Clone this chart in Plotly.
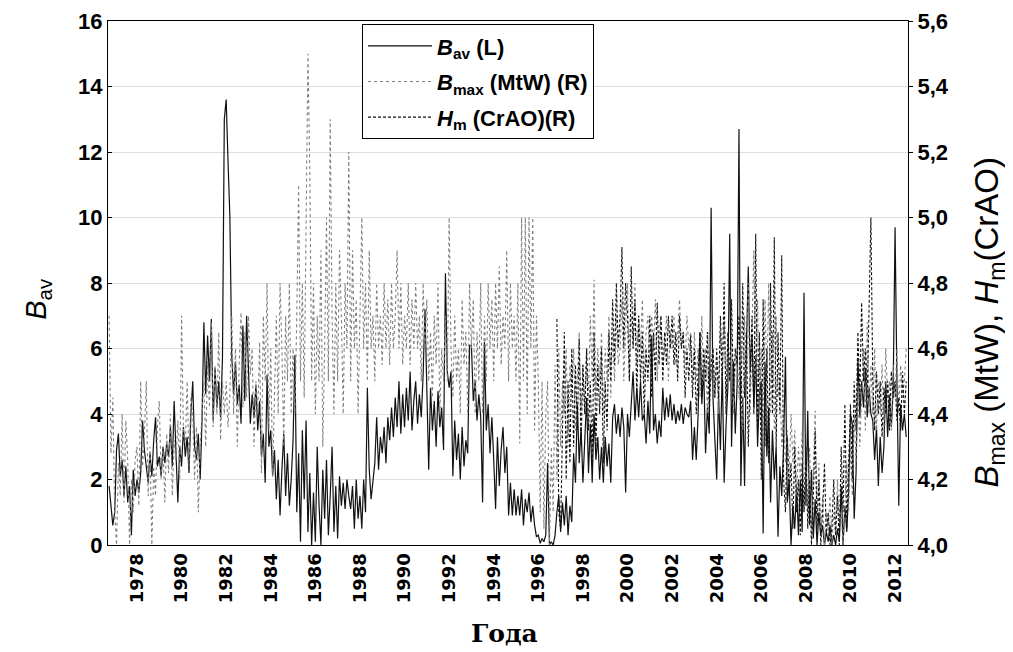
import plotly.graph_objects as go

# monthly values; B_av starts Oct 1976, B_max starts Oct 1976, H_m starts Nov 1996
bav_start = 1976.75
bav = [
    1.8, 1.1, 0.6,                                                  # 1976
    1.0, 2.9, 3.4, 2.1, 2.6, 1.5, 2.4, 1.3, 1.8, 0.3, 2.3, 1.5,     # 1977
    2.0, 1.6, 2.2, 3.8, 2.9, 2.3, 1.9, 2.8, 2.1, 3.2, 3.9, 2.4,     # 1978
    2.7, 2.1, 3.0, 2.5, 3.1, 2.7, 3.6, 2.4, 4.4, 2.8, 1.3, 3.0,     # 1979
    2.4, 3.6, 2.7, 3.3, 2.2, 4.0, 5.0, 3.0, 2.6, 3.4, 2.0, 3.8,     # 1980
    6.8, 4.6, 6.4, 5.0, 6.9, 3.8, 5.4, 4.2, 5.0, 3.9, 5.7, 13.0,    # 1981
    13.6, 11.7, 10.0, 5.8, 4.6, 5.6, 4.3, 4.9, 3.7, 6.7, 4.4, 7.0,  # 1982
    5.0, 3.7, 4.6, 3.9, 4.9, 3.5, 4.4, 2.7, 3.4, 1.9, 5.2, 3.0,     # 1983
    3.5, 2.1, 2.9, 1.4, 2.6, 0.9, 2.3, 3.4, 1.5, 2.8, 1.2, 2.0,     # 1984
    3.2, 5.8, 1.0, 2.8, 0.1, 3.5, 1.4, 3.8, 0.4, 2.2, 0.0, 1.6,     # 1985
    0.1, 3.0, 1.2, 0.0, 2.3, 0.8, 2.6, 0.3, 1.5, 3.0, 0.4, 1.8,     # 1986
    0.2, 2.1, 1.2, 1.9, 1.1, 2.0, 1.5, 1.1, 1.8, 0.5, 2.0, 0.8,     # 1987
    1.5, 0.5, 2.0, 1.0, 4.8, 2.3, 1.4, 2.0, 2.5, 3.9, 2.3, 3.3,     # 1988
    2.8, 3.6, 2.5, 3.9, 3.2, 4.2, 3.3, 4.5, 3.6, 5.0, 3.4, 4.6,     # 1989
    3.6, 4.8, 3.8, 5.3, 3.5, 4.4, 5.0, 3.7, 4.6, 3.9, 5.2, 7.2,     # 1990
    4.2, 2.3, 4.8, 3.5, 4.4, 3.0, 4.7, 3.6, 4.2, 2.9, 8.3, 5.3,     # 1991
    4.8, 5.3, 2.1, 3.8, 2.6, 3.4, 2.0, 3.6, 2.4, 3.2, 2.8, 6.1,     # 1992
    6.1, 4.4, 5.0, 3.8, 4.6, 3.9, 1.3, 6.2, 3.5, 4.3, 2.8, 3.9,     # 1993
    2.6, 1.1, 3.3, 1.8, 2.9, 3.6, 2.2, 3.0, 0.9, 1.9, 0.9, 1.7,     # 1994
    0.9, 1.5, 0.9, 1.7, 0.6, 1.4, 1.0, 1.6, 0.7, 1.2, 0.6, 0.25,    # 1995
    0.3, 0.05, 0.2, 0.1, 0.3, 2.5, 0.0, 0.1, 0.0, 0.3, 1.0, 1.5,    # 1996
    0.4, 1.3, 0.6, 1.5, 0.3, 1.2, 0.7, 2.8, 1.9, 4.3, 2.5, 3.6,     # 1997
    1.9, 3.1, 4.5, 2.2, 3.7, 1.9, 4.0, 2.6, 3.3, 2.0, 3.0, 1.9,     # 1998
    3.3, 2.4, 3.1, 1.9, 3.9, 4.3, 3.4, 4.0, 3.3, 4.2, 3.6, 1.6,     # 1999
    4.0, 3.3, 4.3, 5.3, 3.8, 4.8, 3.9, 5.0, 3.8, 4.0, 3.1, 4.4,     # 2000
    3.4, 6.4, 3.5, 4.0, 3.1, 3.8, 3.3, 4.8, 3.8, 4.5, 3.9, 4.6,     # 2001
    3.8, 4.3, 3.7, 4.1, 3.8, 4.3, 3.7, 4.2, 4.0, 3.9, 4.4, 2.6,     # 2002
    3.6, 2.6, 4.0, 6.5, 4.3, 5.4, 2.8, 4.2, 3.4, 10.3, 4.5, 3.0,    # 2003
    2.0, 4.6, 2.9, 5.4, 1.9, 3.6, 4.8, 9.5, 3.0, 5.6, 3.4, 4.9,     # 2004
    12.7, 1.8, 4.5, 1.8, 6.0, 8.5, 5.3, 6.4, 4.2, 5.8, 3.0, 4.6,    # 2005
    5.0, 0.35, 5.6, 2.7, 4.2, 1.3, 3.5, 2.0, 3.0, 0.25, 2.4, 1.5,   # 2006
    3.0, 5.75, 1.3, 2.0, 0.0, 1.2, 0.5, 1.8, 0.3, 2.0, 0.4, 7.7,    # 2007
    1.2, 4.1, 0.6, 2.3, 0.2, 1.4, 0.0, 1.0, 0.3, 0.6, 0.0, 0.4,     # 2008
    0.1, 0.6, 0.0, 0.3, 0.0, 0.5, 0.1, 1.8, 0.0, 1.2, 0.4, 1.6,     # 2009
    4.0, 3.7, 0.8, 2.2, 5.7, 3.9, 5.0, 4.2, 5.4, 3.9, 4.8, 4.0,     # 2010
    3.8, 2.6, 3.6, 1.8, 3.3, 2.2, 3.0, 5.0, 3.3, 4.6, 3.6, 4.8,     # 2011
    9.7, 5.0, 1.2, 4.3, 3.5, 4.0, 3.3,                              # 2012
]

bmax_start = 1976.75
bmax = [
    4.70, 4.28, 4.45,
    4.10, 4.00, 4.25, 4.15, 4.40, 4.13, 4.38, 4.26, 4.00, 4.20, 4.10, 4.26,
    4.30, 4.12, 4.50, 4.24, 4.34, 4.50, 4.15, 4.30, 4.00, 4.24, 4.15, 4.36,
    4.44, 4.20, 4.30, 4.13, 4.34, 4.22, 4.40, 4.15, 4.32, 4.26, 4.38, 4.20,
    4.70, 4.34, 4.31, 4.50, 4.24, 4.45, 4.40, 4.20, 4.36, 4.10, 4.30, 4.40,
    4.50, 4.30, 4.56, 4.42, 4.68, 4.36, 4.55, 4.40, 4.65, 4.32, 4.50, 4.40,
    4.50, 4.36, 4.46, 4.70, 4.40, 4.60, 4.30, 4.55, 4.71, 4.42, 4.65, 4.45,
    4.70, 4.52, 4.60, 4.30, 4.50, 4.40, 4.62, 4.22, 4.70, 4.50, 4.80, 4.35,
    4.60, 4.21, 4.50, 4.70, 4.40, 4.80, 4.60, 4.30, 4.70, 4.50, 4.80, 4.40,
    4.60, 4.40, 4.70, 5.10, 4.50, 4.80, 4.45, 4.90, 5.50, 5.15, 4.50, 4.80,
    4.40, 4.70, 4.50, 4.90, 4.30, 4.60, 5.00, 4.50, 5.30, 4.70, 4.40, 4.80,
    4.50, 4.90, 4.70, 4.40, 4.80, 4.60, 5.20, 4.50, 4.90, 4.60, 4.75, 4.40,
    4.65, 5.00, 4.60, 4.80, 4.50, 4.90, 4.60, 4.70, 4.50, 4.80, 4.60, 4.70,
    4.55, 4.80, 4.60, 4.75, 4.55, 4.80, 4.60, 4.70, 4.90, 4.60, 4.80, 4.55,
    4.70, 4.60, 4.80, 4.55, 4.75, 4.60, 4.80, 4.60, 4.70, 4.50, 4.80, 4.60,
    4.75, 4.50, 4.65, 4.45, 4.70, 4.55, 4.80, 4.40, 4.60, 4.50, 4.70, 4.50,
    5.00, 4.60, 4.45, 4.70, 4.50, 4.60, 4.40, 4.75, 4.55, 4.65, 4.40, 4.80,
    4.60, 4.75, 4.40, 4.65, 4.50, 4.80, 4.40, 4.70, 4.50, 4.80, 4.60, 4.75,
    4.50, 4.80, 4.60, 4.85, 4.55, 4.70, 4.60, 4.90, 4.50, 4.80, 4.60, 4.70,
    4.50, 4.80, 4.31, 5.00, 4.50, 5.00, 4.40, 5.00, 4.60, 5.00, 4.35, 4.70,
    4.50, 4.10, 4.50, 4.05, 4.40, 4.50, 4.00, 4.30, 4.10, 4.55, 4.20, 4.60,
    4.30, 4.50, 4.40, 4.60, 4.30, 4.55, 4.45, 4.60, 4.35, 4.50, 4.65, 4.40,
    4.55, 4.40, 4.60, 4.45, 4.70, 4.50, 4.81, 4.45, 4.60, 4.50, 4.65, 4.40,
    4.60, 4.50, 4.70, 4.45, 4.65, 4.50, 4.70, 4.55, 4.60, 4.75, 4.50, 4.65,
    4.80, 4.50, 4.70, 4.60, 4.80, 4.55, 4.70, 4.60, 4.75, 4.50, 4.65, 4.70,
    4.55, 4.70, 4.60, 4.75, 4.50, 4.65, 4.70, 4.55, 4.60, 4.70, 4.50, 4.65,
    4.60, 4.70, 4.55, 4.65, 4.75, 4.60, 4.65, 4.55, 4.70, 4.60, 4.65, 4.50,
    4.65, 4.50, 4.60, 4.45, 4.70, 4.50, 4.60, 4.40, 4.65, 4.50, 4.60, 4.45,
    4.55, 4.40, 4.65, 4.50, 4.70, 4.45, 4.60, 4.50, 4.65, 4.40, 4.55, 4.60,
    4.45, 4.60, 4.35, 4.70, 4.50, 4.80, 4.40, 4.65, 4.90, 4.50, 4.75, 4.40,
    4.60, 4.30, 4.75, 4.50, 4.80, 4.40, 4.65, 4.35, 4.70, 4.45, 4.50, 4.30,
    4.40, 4.25, 4.35, 4.20, 4.40, 4.25, 4.35, 4.15, 4.30, 4.20, 4.35, 4.10,
    4.25, 4.10, 4.30, 4.05, 4.20, 4.41, 4.10, 4.25, 4.03, 4.15, 4.00, 4.10,
    4.05, 4.15, 4.00, 4.10, 4.03, 4.20, 4.05, 4.10, 4.00, 4.15, 4.25, 4.10,
    4.30, 4.15, 4.40, 4.25, 4.50, 4.30, 4.45, 4.60, 4.35, 4.68, 4.40, 4.55,
    4.40, 4.60, 4.35, 4.50, 4.40, 4.55, 4.35, 4.60, 4.45, 4.50, 4.35, 4.55,
    4.45, 4.60, 4.40, 4.55, 4.45, 4.50, 4.60,
]

hm_start = 1996.0 + 10 / 12
hm = [
    4.69, 4.10,
    4.05, 4.40, 4.65, 4.20, 4.50, 4.25, 4.60, 4.30, 4.55, 4.35, 4.63, 4.30,
    4.55, 4.40, 4.60, 4.35, 4.50, 4.25, 4.65, 4.30, 4.55, 4.40, 4.60, 4.25,
    4.50, 4.35, 4.65, 4.50, 4.75, 4.55, 4.80, 4.60, 4.70, 4.91, 4.60, 4.80,
    4.70, 4.50, 4.85, 4.60, 4.75, 4.45, 4.70, 4.50, 4.65, 4.40, 4.60, 4.50,
    4.70, 4.45, 4.65, 4.50, 4.74, 4.55, 4.70, 4.50, 4.65, 4.55, 4.70, 4.60,
    4.70, 4.55, 4.65, 4.50, 4.70, 4.60, 4.65, 4.45, 4.60, 4.50, 4.64, 4.45,
    4.60, 4.40, 4.55, 4.65, 4.45, 4.60, 4.50, 4.65, 4.40, 4.55, 4.60, 4.45,
    4.60, 4.45, 4.70, 4.50, 4.80, 4.40, 4.65, 4.50, 4.75, 4.45, 4.60, 4.55,
    4.70, 4.35, 4.80, 4.45, 4.65, 4.30, 4.50, 4.70, 4.40, 4.95, 4.35, 4.65,
    4.20, 4.75, 4.30, 4.60, 4.25, 4.80, 4.40, 4.94, 4.30, 4.65, 4.40, 4.885,
    4.20, 4.10, 4.33, 4.15, 4.25, 4.05, 4.30, 4.10, 4.20, 4.03, 4.25, 4.10,
    4.30, 4.05, 4.20, 4.00, 4.15, 4.35, 4.05, 4.20, 4.00, 4.10, 4.25, 4.03,
    4.10, 4.00, 4.05, 4.20, 4.03, 4.15, 4.00, 4.30, 4.10, 4.43, 4.05, 4.25,
    4.43, 4.20, 4.50, 4.35, 4.65, 4.45, 4.74, 4.50, 4.60, 4.45, 4.70, 5.00,
    4.50, 4.35, 4.53, 4.40, 4.50, 4.33, 4.48, 4.40, 4.50, 4.35, 4.53, 4.45,
    4.50, 4.38, 4.45, 4.35, 4.53, 4.40, 4.50,
]

year_ticks = list(range(1978, 2013, 2))
x_min, x_max = 1976.7, 2012.58
n_grid = 48


def months(start, n):
    return [start + i / 12 for i in range(n)]


step = (x_max - x_min) / n_grid
grid_x = [x_min + k * step for k in range(1, n_grid)]

font = 'Liberation Sans, Arial, sans-serif'
narrow = 'Liberation Sans Narrow, Arial Narrow, Liberation Sans, sans-serif'

fig = go.Figure()

fig.add_trace(go.Scatter(
    x=months(bav_start, len(bav)), y=bav, mode='lines',
    name='<i>B</i><sub>av</sub> (L)', legendrank=1, legendgroup='a',
    line=dict(color='#111111', width=1.2),
))
fig.add_trace(go.Scatter(
    x=months(bmax_start, len(bmax)), y=bmax, mode='lines', yaxis='y2',
    name='<i>B</i><sub>max</sub> (MtW) (R)', legendrank=2, legendgroup='b',
    line=dict(color='#808080', width=1.1, dash='dot'),
))
fig.add_trace(go.Scatter(
    x=months(hm_start, len(hm)), y=hm, mode='lines', yaxis='y2',
    name='<i>H</i><sub>m</sub> (CrAO)(R)', legendrank=3, legendgroup='c',
    line=dict(color='#111111', width=1.1, dash='3px,2px'),
))

ytick_font = dict(family=narrow, size=22, color='black', weight='bold')
xtick_font = dict(family='DejaVu Sans, Verdana, sans-serif', size=18,
                  color='black', weight='bold')

# the page body adds 8px around the figure, so the margins are trimmed by 8
fig.update_layout(
    width=1005, height=644,
    margin=dict(l=100, r=105, t=13, b=107),
    paper_bgcolor='white', plot_bgcolor='white',
    separators=', ',
    xaxis=dict(
        range=[x_min, x_max], tickvals=year_ticks,
        ticktext=[str(y) for y in year_ticks], tickangle=-90,
        ticks='', showgrid=False, zeroline=False, automargin=False,
        showline=True, mirror=True, linecolor='black', linewidth=1,
        tickfont=xtick_font,
    ),
    xaxis2=dict(
        range=[x_min, x_max], overlaying='x', side='bottom',
        tickvals=grid_x, showticklabels=False, automargin=False,
        ticks='inside', ticklen=4, tickcolor='black',
        showgrid=True, gridcolor='#dedede', gridwidth=1,
        showline=True, mirror='ticks', linecolor='black', zeroline=False,
    ),
    yaxis=dict(
        range=[0, 16], dtick=2, tickformat='d', automargin=False,
        ticks='inside', ticklen=4, tickcolor='black',
        showgrid=True, gridcolor='#dedede', zeroline=False,
        showline=True, linecolor='black', linewidth=1,
        tickfont=ytick_font,
    ),
    yaxis2=dict(
        range=[4.0, 5.6], dtick=0.2, tickformat='.1f', overlaying='y',
        side='right', ticks='outside', ticklen=4, tickcolor='black',
        showgrid=False, zeroline=False, automargin=False,
        showline=True, linecolor='black', linewidth=1,
        tickfont=ytick_font,
    ),
    legend=dict(
        x=0.3175, y=0.994, xanchor='left', yanchor='top',
        bgcolor='white', bordercolor='black', borderwidth=1,
        font=dict(family=font, size=22, color='black', weight='bold'),
        itemwidth=64, tracegroupgap=4,
    ),
    annotations=[
        dict(text='<i>B</i><sub>av</sub>', xref='paper', yref='paper',
             x=-0.0875, y=0.47, xanchor='center', yanchor='middle',
             textangle=-90, showarrow=False,
             font=dict(family=font, size=29, color='black')),
        dict(text='<i>B</i><sub>max</sub> (MtW), <i>H</i><sub>m</sub>(CrAO)',
             xref='paper', yref='paper', x=1.101, y=0.426,
             xanchor='center', yanchor='middle', textangle=-90,
             showarrow=False, font=dict(family=font, size=33, color='black')),
        dict(text='Года', xref='paper', yref='paper', x=0.496, y=-0.168,
             xanchor='center', yanchor='middle', showarrow=False,
             font=dict(family='DejaVu Serif, Liberation Serif, serif',
                       size=25, color='black', weight='bold')),
    ],
)

fig.write_html("out.html")
